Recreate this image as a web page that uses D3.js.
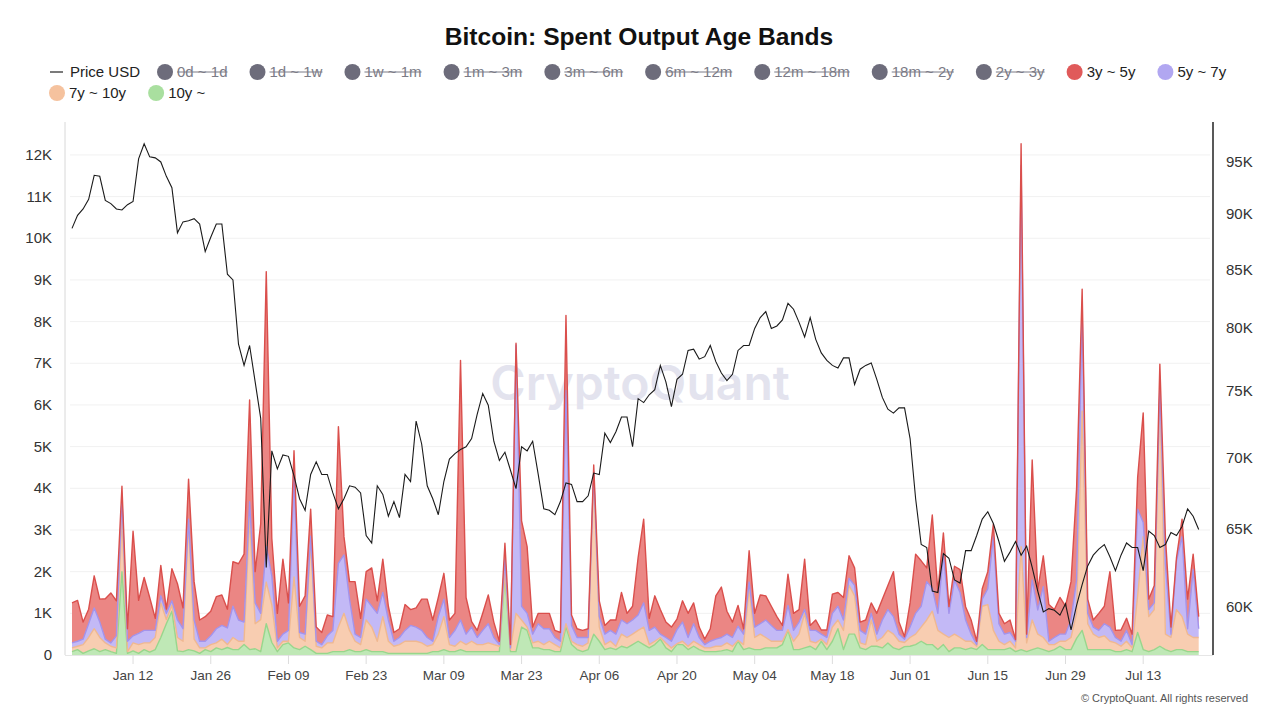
<!DOCTYPE html>
<html><head><meta charset="utf-8">
<script src="https://cdn.jsdelivr.net/npm/d3@7"></script>
<style>
body{margin:0;background:#fff;}
svg{font-family:"Liberation Sans",Arial,sans-serif;}
</style></head><body>
<svg id="c" width="1280" height="720"></svg>
<script>
const startDate = "2026-01-01";
const price = [
88700,89900,90500,91400,93700,93600,91300,91000,90500,90400,
90900,91200,95300,96800,95500,95400,95000,93600,92500,88300,
89300,89400,89600,89100,86600,87900,89100,89100,84600,84100,
78700,77000,78600,75700,72900,62500,70500,69200,70200,70100,
68700,67100,66300,68800,69700,68800,68800,67500,66400,67100,
68000,67900,67500,64600,64100,68000,67400,65900,66900,65800,
68800,68300,72700,71000,68000,67100,66000,68300,69900,70300,
70600,70800,71400,73200,74800,73900,71200,69800,70400,69100,
67800,70800,70500,71200,68800,66400,66300,66000,66900,68200,
68100,66900,66900,67300,68900,68800,71800,71100,71900,73000,
73000,70800,74400,74100,74700,75100,77000,75700,73800,75900,
76300,78200,78300,77500,77700,78600,77300,76400,75800,76300,
78200,78600,78600,80000,80900,81400,80000,80200,80700,82100,
81600,80500,79300,80900,79100,78000,77400,77000,76800,77600,
77600,75500,76700,77000,77200,75900,74500,73600,73300,73700,
73700,71400,67100,64000,63800,61000,60900,63400,63100,61700,
61500,63600,63600,64600,65700,66200,65400,64200,62900,63500,
64200,63300,63900,62500,61000,59700,59900,59800,59500,60200,
58600,60100,61400,62600,63300,63700,64000,63200,62300,63300,
64100,63800,63800,62300,64900,64600,63800,64000,64800,64600,
65200,66400,65900,65000];
const band3y5y = [
960,980,410,350,770,550,970,1200,840,290,
300,2510,790,1270,790,290,730,100,770,870,
500,960,920,510,590,590,770,730,450,1070,
1350,1630,2440,750,2150,6600,900,670,1800,660,
630,630,920,650,340,290,500,330,3280,440,
420,1260,460,660,920,300,800,330,210,210,
620,380,460,750,920,510,460,620,420,410,
6230,880,130,170,410,690,370,80,380,80,
40,2050,1600,170,250,370,370,170,210,1800,
250,210,170,210,160,380,210,250,340,660,
250,330,1380,2010,290,750,590,370,340,250,
510,580,500,250,130,300,1040,1210,550,370,
500,130,750,330,690,580,460,330,120,750,
410,300,1210,120,250,100,180,460,330,540,
540,420,200,340,250,500,500,580,1080,290,
60,580,1420,1090,330,1760,520,510,160,330,
550,320,340,80,250,410,300,250,250,300,
40,520,80,2880,480,740,880,670,880,670,
920,2200,540,340,170,410,420,1330,170,270,
290,250,760,2630,250,420,540,670,170,80,
420,710,370,290];
const band5y7y = [
120,120,130,330,500,370,90,80,290,500,
250,170,270,300,300,170,170,150,100,420,
300,80,460,160,160,210,340,330,400,750,
510,460,380,500,150,850,700,160,170,260,
2400,120,170,150,120,80,170,300,1530,1400,
750,170,170,500,500,670,580,510,120,170,
260,380,340,300,210,80,420,420,170,380,
510,250,340,170,340,460,170,40,300,40,
6440,330,330,210,420,380,300,170,160,5600,
380,170,210,130,100,250,250,260,290,340,
330,340,370,580,340,340,80,130,160,340,
460,210,420,170,80,160,170,210,210,210,
340,250,170,250,250,420,380,260,260,580,
260,290,90,260,300,120,170,330,330,250,
170,250,300,250,160,170,420,500,420,170,
80,250,500,500,920,550,410,1920,580,1300,
1080,510,170,40,170,380,2250,420,250,210,
160,9150,130,960,580,1220,80,170,170,170,
420,800,2390,250,170,170,290,340,130,120,
260,80,2080,340,170,160,90,1670,80,1170,
1920,130,1630,210];
const band7y10y = [
90,80,210,320,480,340,160,130,130,1260,
40,190,210,160,220,290,830,100,150,320,
250,3050,280,130,40,170,120,250,70,290,
200,80,3170,600,770,1000,900,90,80,40,
1700,290,120,2570,170,130,250,210,590,920,
460,250,170,710,590,250,840,290,170,210,
290,290,290,250,170,170,420,790,170,130,
200,170,250,170,170,210,170,130,80,50,
920,170,80,120,160,120,200,170,90,80,
80,120,130,160,3800,340,120,160,80,290,
250,250,260,420,80,80,40,120,90,20,
80,80,120,120,90,90,130,110,160,130,
20,120,1410,290,370,250,160,160,80,20,
200,370,830,120,160,50,120,340,210,460,
1170,920,120,120,630,120,250,300,330,200,
100,210,250,340,590,800,460,250,340,330,
250,200,160,80,920,1080,460,200,120,160,
90,2470,210,710,330,290,170,120,120,200,
290,600,5260,620,370,290,330,200,210,130,
200,90,880,2710,840,960,6140,370,340,960,
790,420,340,340];
const band10y = [
80,130,40,100,150,80,130,80,40,2000,
40,100,40,130,70,130,420,750,1050,100,
80,130,100,40,130,80,170,130,180,130,
130,250,130,150,80,750,300,80,250,290,
170,130,210,130,40,40,40,80,80,80,
130,80,80,130,80,80,80,40,40,40,
40,40,40,40,40,80,80,130,80,80,
130,80,80,80,80,80,80,80,1920,80,
80,670,590,170,170,130,130,80,80,670,
250,130,80,130,500,330,130,170,130,210,
170,250,330,250,170,250,380,170,80,250,
250,130,210,130,80,80,80,100,130,80,
330,130,170,130,130,170,170,170,250,590,
130,130,170,210,130,330,130,330,630,130,
500,500,170,130,210,210,170,290,170,130,
200,210,250,330,250,250,130,250,80,170,
170,130,170,130,250,130,130,130,130,170,
80,130,80,130,170,130,80,130,210,130,
130,400,590,130,130,130,130,130,80,80,
130,80,540,130,80,130,210,130,80,130,
130,80,80,80];
const leftTicks = [0,1000,2000,3000,4000,5000,6000,7000,8000,9000,10000,11000,12000];
const leftTickLabels = ["0","1K","2K","3K","4K","5K","6K","7K","8K","9K","10K","11K","12K"];
const rightTicks = [60000,65000,70000,75000,80000,85000,90000,95000];
const rightTickLabels = ["60K","65K","70K","75K","80K","85K","90K","95K"];
const xTickLabels = ["Jan 12","Jan 26","Feb 09","Feb 23","Mar 09","Mar 23","Apr 06","Apr 20","May 04","May 18","Jun 01","Jun 15","Jun 29","Jul 13"];
const legendLabels = ["Price USD","0d ~ 1d","1d ~ 1w","1w ~ 1m","1m ~ 3m","3m ~ 6m","6m ~ 12m","12m ~ 18m","18m ~ 2y","2y ~ 3y","3y ~ 5y","5y ~ 7y","7y ~ 10y","10y ~"];
const activeBands = ["3y ~ 5y","5y ~ 7y","7y ~ 10y","10y ~"];

const svg = d3.select("#c");
const parseDay = d3.timeParse("%Y-%m-%d");
const d0 = parseDay(startDate);
const data = price.map((p,i)=>({
  date: d3.timeDay.offset(d0,i), price:p,
  b10: band10y[i], b7: band7y10y[i], b5: band5y7y[i], b3: band3y5y[i]
}));

const L=65, R=1213, T=122, B=655;
const x = d3.scaleTime().domain([data[0].date, data[data.length-1].date]).range([72,1198.7]);
const y = d3.scaleLinear().domain([0,12790]).range([B,T]);
const yP = d3.scaleLog().domain([57100,99000]).range([B,T]);

// title
svg.append("text").attr("x",639).attr("y",45).attr("text-anchor","middle")
  .attr("font-size",24.6).attr("font-weight","bold").attr("fill","#111")
  .text("Bitcoin: Spent Output Age Bands");

// gridlines
svg.append("g").selectAll("line").data(leftTicks.slice(1)).join("line")
  .attr("x1",L+5).attr("x2",R-3).attr("y1",d=>y(d)).attr("y2",d=>y(d))
  .attr("stroke","#f1f1f1").attr("stroke-width",1);

// watermark
svg.append("text").attr("x",640).attr("y",400).attr("text-anchor","middle")
  .attr("font-family","Inter, 'Open Sans', sans-serif")
  .attr("font-size",48).attr("font-weight",600).attr("fill","#e3e3ee")
  .text("CryptoQuant");

// stacked areas
const keys = ["b10","b7","b5","b3"];
const fills = {b3:"#eb8684", b5:"#c3b9f6", b7:"#f8cdb1", b10:"#bfe8b6"};
const strokes = {b3:"#da4f4c", b5:"#a393ec", b7:"#f0b890", b10:"#98d68c"};
const stack = d3.stack().keys(keys);
const series = stack(data);
const area = d3.area().x((d,i)=>x(data[i].date)).y0(d=>y(d[0])).y1(d=>y(d[1]));
const topLine = d3.line().x((d,i)=>x(data[i].date)).y(d=>y(d[1]));
const gA = svg.append("g");
series.forEach(s=>{
  gA.append("path").attr("d",area(s)).attr("fill",fills[s.key]);
});
series.forEach(s=>{
  gA.append("path").attr("d",topLine(s)).attr("fill","none")
    .attr("stroke",strokes[s.key]).attr("stroke-width",1.4).attr("stroke-linejoin","round");
});

// price line
svg.append("path").datum(data)
  .attr("d",d3.line().x(d=>x(d.date)).y(d=>yP(d.price)))
  .attr("fill","none").attr("stroke","#1a1a1a").attr("stroke-width",1.1);

// axes lines
svg.append("line").attr("x1",L).attr("x2",L).attr("y1",T).attr("y2",B).attr("stroke","#d8d8d8");
svg.append("line").attr("x1",R).attr("x2",R).attr("y1",T).attr("y2",B).attr("stroke","#222").attr("stroke-width",1.5);
svg.append("line").attr("x1",L).attr("x2",R).attr("y1",B+0.5).attr("y2",B+0.5).attr("stroke","#e6e6e6");

// left labels
svg.append("g").selectAll("text").data(leftTicks).join("text")
  .attr("x",52).attr("y",d=>y(d)+5).attr("text-anchor","end")
  .attr("font-size",15).attr("fill","#333").text((d,i)=>leftTickLabels[i]);
// right labels
svg.append("g").selectAll("text").data(rightTicks).join("text")
  .attr("x",1226).attr("y",d=>yP(d)+5).attr("text-anchor","start")
  .attr("font-size",15).attr("fill","#333").text((d,i)=>rightTickLabels[i]);

// x ticks
const fmtParse = d3.timeParse("%b %d %Y");
const xTicks = xTickLabels.map(s=>fmtParse(s+" 2026"));
const gx = svg.append("g");
gx.selectAll("line").data(xTicks).join("line")
  .attr("x1",d=>x(d)).attr("x2",d=>x(d)).attr("y1",B).attr("y2",B+9).attr("stroke","#dcdcdc");
gx.selectAll("text").data(xTicks).join("text")
  .attr("x",d=>x(d)).attr("y",B+25).attr("text-anchor","middle")
  .attr("font-size",13.5).attr("fill","#444").text((d,i)=>xTickLabels[i]);

// copyright
svg.append("text").attr("x",1248).attr("y",702).attr("text-anchor","end")
  .attr("font-size",11).attr("fill","#555").text("\u00a9 CryptoQuant. All rights reserved");

// legend
const legendColors = {"3y ~ 5y":"#e05a5a","5y ~ 7y":"#b1a7f1","7y ~ 10y":"#f5c29e","10y ~":"#a9df9f"};
const gL = svg.append("g");
let lx = 50, ly = 72;
legendLabels.forEach((lab,i)=>{
  const g = gL.append("g");
  const isLine = i===0;
  const active = isLine || activeBands.includes(lab);
  const t = g.append("text").attr("font-size",15).attr("fill",active?"#222":"#7b7b86").text(lab);
  const tw = t.node().getComputedTextLength();
  const tx = 20;
  const w = tx + tw;
  if (lx + w > 1240) { lx = 49; ly += 21; }
  g.attr("transform",`translate(${lx},${ly})`);
  t.attr("x",tx).attr("y",5);
  if (isLine) {
    g.append("line").attr("x1",0).attr("x2",13).attr("y1",0).attr("y2",0).attr("stroke","#333").attr("stroke-width",1.3);
  } else {
    g.append("circle").attr("cx",8).attr("cy",0).attr("r",8).attr("fill",legendColors[lab]||"#6d6c7b");
  }
  if (!active) {
    g.append("line").attr("x1",tx).attr("x2",tx+tw).attr("y1",0).attr("y2",0).attr("stroke","#7b7b86").attr("stroke-width",1);
  }
  lx += w + (isLine?17:22);
});
</script>
</body></html>
